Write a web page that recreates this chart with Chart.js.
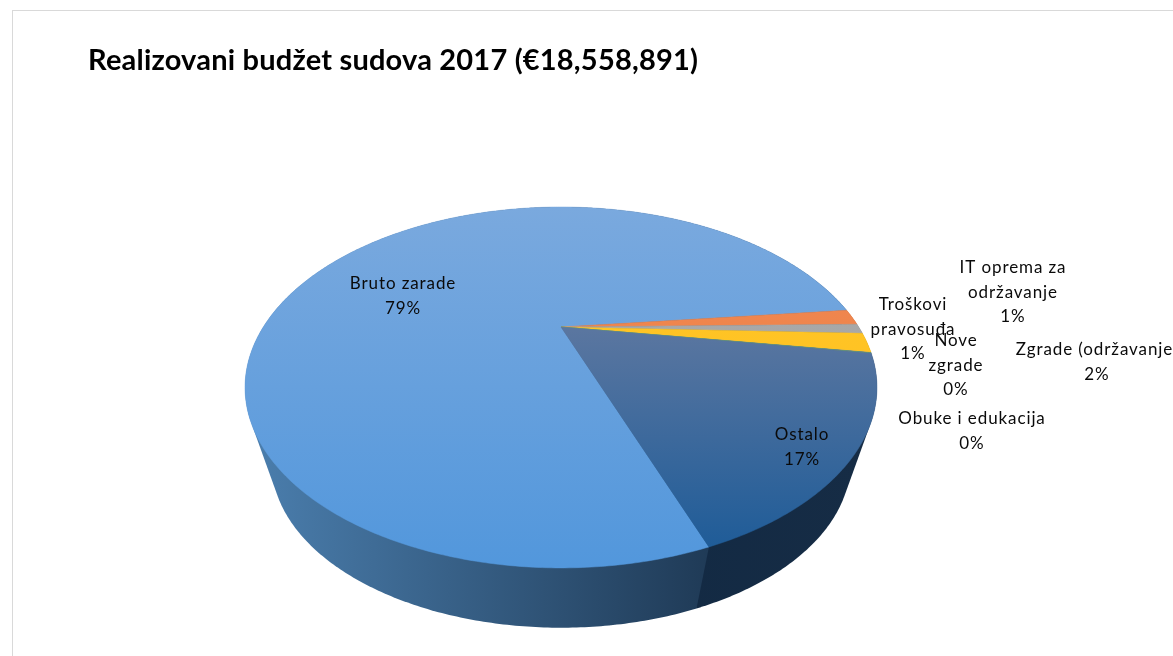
<!DOCTYPE html>
<html><head><meta charset="utf-8">
<style>html,body{margin:0;padding:0;background:#fff;overflow:hidden}canvas{display:block}</style>
<script src="https://cdn.jsdelivr.net/npm/chart.js@4"></script>
</head><body>
<canvas id="c" width="1173" height="656"></canvas>
<script>
const chartTitle = "Realizovani budžet sudova 2017 (€18,558,891)";
const categories = ["Bruto zarade","Troškovi pravosuđa","IT oprema za održavanje","Zgrade (održavanje)","Nove zgrade","Obuke i edukacija","Ostalo"];
const shares = [78.8, 1.45, 0.9, 1.8, 0.03, 0.02, 17.0];
const sliceColors = ["#5b9bd5","#ed7d31","#a5a5a5","#ffc000","#4472c4","#70ad47","#255e91"];

const labelLines = [["Bruto zarade"],["Troškovi","pravosuđa"],["IT oprema za","održavanje"],["Zgrade (održavanje)"],["Nove","zgrade"],["Obuke i edukacija"],["Ostalo"]];
const labelAnchors = [[403,284],[913,305],[1013,268],[1097,350],[956,341],[972,419],[802,435]];

const topShade = [["#7aa9de","#5297dc"],["#f0895a","#ed7d31"],["#a9a9a9","#a5a5a5"],["#ffc629","#ffbf1c"],["#4472c4","#4472c4"],["#70ad47","#70ad47"],["#5a76a0","#1f5c98"]];
const sideShade = [["#4a7dac","#1f3a56"],["#a05020","#a05020"],["#666","#666"],["#a08000","#a08000"],["#2a4a80","#2a4a80"],["#4a7030","#4a7030"],["#0c2540","#162c45"]];

// perspective of the tilted disc
const P = {cx:561, cy:327, A:297.7, B:160.2, c:0.335, vy:1280, s:0.916};
function project(a){ // chart.js angle: 0 = +x, clockwise
  const u=Math.cos(a), v=Math.sin(a), w=1-P.c*v;
  return [P.cx+P.A*u/w, P.cy+P.B*v/w];
}
function lower(p){ return [P.cx+(p[0]-P.cx)*P.s, P.vy+(p[1]-P.vy)*P.s]; }
function arcPts(a0,a1){
  const n=Math.max(2,Math.ceil(Math.abs(a1-a0)/0.01)), pts=[];
  for(let i=0;i<=n;i++) pts.push(project(a0+(a1-a0)*i/n));
  return pts;
}
function hull(points){
  const s=points.slice().sort((a,b)=>a[0]-b[0]||a[1]-b[1]);
  const cross=(o,a,b)=>(a[0]-o[0])*(b[1]-o[1])-(a[1]-o[1])*(b[0]-o[0]);
  const lo=[],up=[];
  for(const p of s){while(lo.length>1&&cross(lo[lo.length-2],lo[lo.length-1],p)<=0)lo.pop();lo.push(p);}
  for(const p of s.slice().reverse()){while(up.length>1&&cross(up[up.length-2],up[up.length-1],p)<=0)up.pop();up.push(p);}
  return lo.slice(0,-1).concat(up.slice(0,-1));
}
const disc3d = {
  id:'disc3d',
  beforeDraw(chart){
    const {ctx}=chart;
    ctx.save();ctx.fillStyle='#fff';ctx.fillRect(0,0,chart.width,chart.height);
    ctx.strokeStyle='#d9d9d9';ctx.lineWidth=1;ctx.strokeRect(12.5,10.5,chart.width+20,chart.height+20);
    ctx.restore();
    ctx.letterSpacing='0.2px';
  },
  beforeDatasetDraw(chart,args){
    const {ctx}=chart, arcs=chart.getDatasetMeta(args.index).data;
    ctx.save();
    // sides
    arcs.forEach((el,i)=>{
      const pts=arcPts(el.startAngle,el.endAngle);
      const g=ctx.createLinearGradient(258,0,i===6?864:712,0);
      g.addColorStop(0,sideShade[i][0]);g.addColorStop(1,sideShade[i][1]);
      ctx.fillStyle=g;
      const poly=hull(pts.concat(pts.map(lower)));
      ctx.beginPath();
      poly.forEach((p,k)=>k?ctx.lineTo(p[0],p[1]):ctx.moveTo(p[0],p[1]));
      ctx.closePath();ctx.fill();
    });
    // top faces
    arcs.forEach((el,i)=>{
      const pts=arcPts(el.startAngle,el.endAngle);
      const g=ctx.createLinearGradient(0,i===6?330:207,0,i===6?547:568);
      g.addColorStop(0,topShade[i][0]);g.addColorStop(1,topShade[i][1]);
      ctx.fillStyle=g;ctx.strokeStyle=g;ctx.lineWidth=0.5;
      ctx.beginPath();ctx.moveTo(P.cx,P.cy);
      pts.forEach(p=>ctx.lineTo(p[0],p[1]));
      ctx.closePath();ctx.fill();ctx.stroke();
    });
    ctx.restore();
    return false;
  },
  afterDraw(chart){
    const {ctx}=chart, total=shares.reduce((a,b)=>a+b,0);
    ctx.save();
    ctx.font='17px Lato';ctx.letterSpacing='0.9px';ctx.textAlign='center';ctx.textBaseline='middle';ctx.fillStyle='#0a0a0a';
    categories.forEach((c,i)=>{
      const lines=labelLines[i].concat(Math.round(shares[i]/total*100)+'%');
      lines.forEach((t,k)=>ctx.fillText(t,labelAnchors[i][0],labelAnchors[i][1]+k*24.3));
    });
    ctx.restore();
  }
};
new Chart(document.getElementById('c'),{
  type:'pie',
  data:{labels:categories,datasets:[{data:shares,backgroundColor:sliceColors,borderWidth:0}]},
  plugins:[disc3d],
  options:{
    responsive:false,animation:false,
    rotation:160.1,
    layout:{padding:{left:88,top:43}},
    plugins:{
      legend:{display:false},tooltip:{enabled:false},
      title:{display:true,text:chartTitle,align:'start',color:'#000',font:{family:'Lato',size:29,weight:'bold'},padding:0}
    }
  }
});
</script>
</body></html>
